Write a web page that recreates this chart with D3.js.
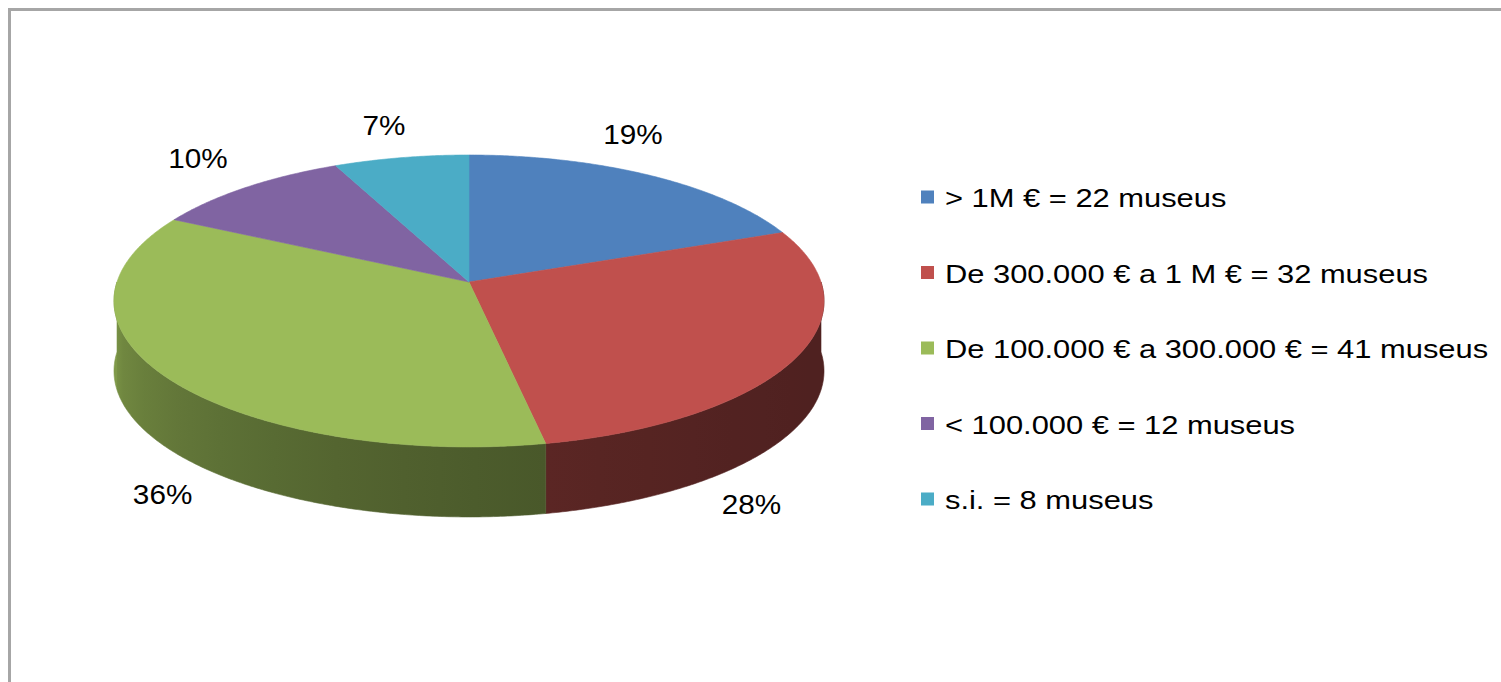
<!DOCTYPE html>
<html lang="ca">
<head>
<meta charset="utf-8">
<style>
    body { margin: 0; background: #fff; }
    svg { display: block; }
</style>
</head>
<body>
<svg id="chart"></svg>
<script src="https://cdn.jsdelivr.net/npm/d3@7/dist/d3.min.js"></script>
<script>

    // data
    var categories = ["> 1M € = 22 museus", "De 300.000 € a 1 M € = 32 museus", "De 100.000 € a 300.000 € = 41 museus", "< 100.000 € = 12 museus", "s.i. = 8 museus"];
    var museus = [22, 32, 41, 12, 8];
    var colors = ["#4f81bd", "#c0504d", "#9bbb59", "#8064a2", "#4bacc6"];
    // excel puts the 3d labels a bit off the mid angle (degrees)
    var labelShift = [-10, 24, -12, 2, 0];

    var width = 1501, height = 682;
    var svg = d3.select("#chart").attr("width", width).attr("height", height);

    // frame (right and bottom edges fall outside the picture)
    svg.append("rect")
        .attr("x", 9.5).attr("y", 9.5)
        .attr("width", 1700).attr("height", 900)
        .attr("fill", "none")
        .attr("stroke", "#a6a6a6")
        .attr("stroke-width", 3);

    // tilted disc, simple perspective
    var cx = 469, cy = 282, rx = 352, ry = 143.5, persp = 0.13, depth = 70;
    var proj = function (a, r, dz) {
        var u = r * Math.sin(a), v = r * Math.cos(a), w = 1 + persp * v;
        return [cx + rx * u / w, cy - ry * v / w + (dz || 0)];
    };

    var pie = d3.pie().sort(null).value(function (d) { return d; });
    var arcs = pie(museus);
    var total = d3.sum(museus);
    var fmt = d3.format(".0%");

    var arcPoints = function (a0, a1, dz) {
        var n = Math.max(2, Math.ceil((a1 - a0) / (Math.PI / 360)));
        var pts = [];
        for (var i = 0; i <= n; i++)
            pts.push(proj(a0 + (a1 - a0) * i / n, 1, dz));
        return pts;
    };

    var line = d3.line();
    var defs = svg.append("defs");
    var g = svg.append("g");

    // side lighting: darker on the right, lighter to the left
    var shadeK = function (a) {
        var t = Math.max(0, (a - Math.PI / 2) / Math.PI);
        return 0.41 + 0.41 * Math.pow(t, 2.3);
    };

    // side walls (front half only)
    arcs.forEach(function (d, i) {
        var a0 = Math.max(d.startAngle, Math.PI / 2);
        var a1 = Math.min(d.endAngle, 3 * Math.PI / 2);
        if (a1 <= a0) return;
        var top = arcPoints(a0, a1, 0);
        var bottom = arcPoints(a0, a1, depth).reverse();
        var xs = top.map(function (p) { return p[0]; });
        var xmin = d3.min(xs), xmax = d3.max(xs);
        var grad = defs.append("linearGradient")
            .attr("id", "side" + i)
            .attr("gradientUnits", "userSpaceOnUse")
            .attr("x1", xmin).attr("x2", xmax).attr("y1", 0).attr("y2", 0);
        var base = d3.rgb(colors[i]);
        for (var s = 0; s <= 10; s++) {
            var a = a1 - (a1 - a0) * s / 10;
            var x = proj(a, 1)[0];
            var k = shadeK(a);
            grad.append("stop")
                .attr("offset", (x - xmin) / (xmax - xmin))
                .attr("stop-color", d3.rgb(base.r * k, base.g * k, base.b * k));
        }
        g.append("path")
            .attr("d", line(top.concat(bottom)) + "Z")
            .attr("fill", "url(#side" + i + ")")
            .attr("stroke", "url(#side" + i + ")")
            .attr("stroke-width", 0.6);
    });

    // top faces
    arcs.forEach(function (d, i) {
        var pts = [[cx, cy]].concat(arcPoints(d.startAngle, d.endAngle, 0));
        g.append("path")
            .attr("d", line(pts) + "Z")
            .attr("fill", colors[i])
            .attr("stroke", colors[i])
            .attr("stroke-width", 0.6);
    });

    // percent labels
    arcs.forEach(function (d, i) {
        var a = (d.startAngle + d.endAngle) / 2 + labelShift[i] * Math.PI / 180;
        var front = Math.cos(a) < 0;
        var p = proj(a, front ? 1.17 : 1.3, front ? depth : 0);
        svg.append("text")
            .attr("transform", "translate(" + p[0] + "," + p[1] + ") scale(1.1,1)")
            .attr("text-anchor", "middle")
            .attr("dominant-baseline", "central")
            .attr("font-family", "'Liberation Sans', Arial, sans-serif")
            .attr("font-size", "27px")
            .attr("fill", "#000")
            .text(fmt(d.value / total));
    });

    // legend
    var legend = svg.append("g").attr("transform", "translate(921,197)");
    var rowH = 75.5;
    var rows = legend.selectAll("g.row")
        .data(categories)
        .enter()
        .append("g")
        .attr("class", "row")
        .attr("transform", function (d, i) { return "translate(0," + i * rowH + ")"; });
    rows.append("rect")
        .attr("x", 0).attr("y", -6.5)
        .attr("width", 13).attr("height", 13)
        .attr("fill", function (d, i) { return colors[i]; });
    rows.append("text")
        .attr("transform", "translate(24,1) scale(1.235,1.04)")
        .attr("dominant-baseline", "central")
        .attr("font-family", "'Liberation Sans', Arial, sans-serif")
        .attr("font-size", "25px")
        .attr("fill", "#000")
        .text(function (d) { return d; });

</script>
</body>
</html>
